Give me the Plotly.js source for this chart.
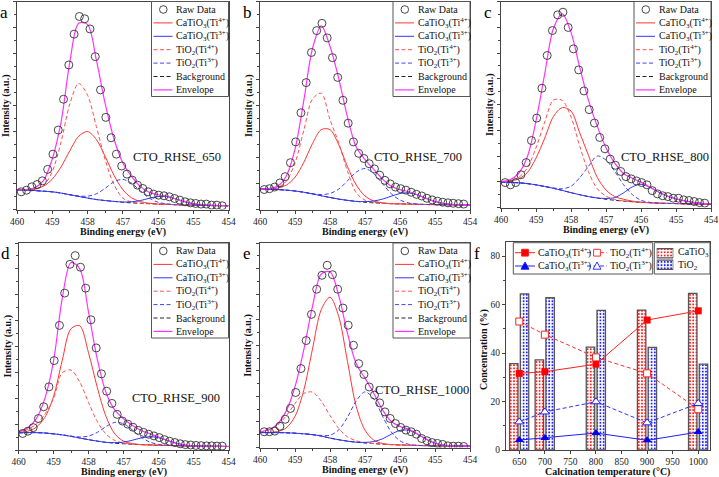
<!DOCTYPE html>
<html>
<head>
<meta charset="utf-8">
<script src="https://cdn.plot.ly/plotly-3.0.1.min.js"></script>
<style>
html, body { margin: 0; padding: 0; background: #fff; }
#xps { width: 719px; height: 477px; }
</style>
</head>
<body>
<div id="xps"></div>
<script>
// Ti 2p XPS fits (a-e) + phase / valence concentration (f)
// intensities are in plot units: 0 = bottom of frame, 100 = top of frame

// binding energy grids (eV)
var fitE = [460, 459.75, 459.5, 459.25, 459, 458.75, 458.5, 458.25, 458, 457.75, 457.5, 457.25, 457,
	456.75, 456.5, 456.25, 456, 455.75, 455.5, 455.25, 455, 454.75, 454.5, 454.25, 454];
var rawE = [459.88, 459.73, 459.58, 459.43, 459.28, 459.13, 458.98, 458.83, 458.68, 458.53, 458.38, 458.23, 458.08,
	457.93, 457.78, 457.63, 457.48, 457.33, 457.18, 457.03, 456.88, 456.73, 456.58, 456.43, 456.28, 456.13,
	455.98, 455.83, 455.68, 455.53, 455.38, 455.23, 455.08, 454.93, 454.78, 454.63, 454.48, 454.33, 454.18];

// CTO_RHSE_650
var raw650 = [8.5, 9.3, 10.9, 12.0, 13.8, 19.3, 26.6, 38.2, 53.0, 69.5, 84.3, 92.8, 91.7, 86.8, 73.5, 57.5, 44.3, 34.5, 26.6, 20.9,
	17.0, 14.1, 11.7, 10.1, 8.5, 7.4, 6.9, 6.6, 6.1, 5.3, 4.5, 3.7, 3.2, 2.9, 2.6, 2.6, 2.1, 2.1, 1.8];
var bg650  = [9.3, 9.3, 9.1, 8.8, 8.5, 7.9, 7.1, 6.3, 5.5, 4.8, 4.3, 3.9, 3.5, 3.2, 3.0, 2.8, 2.6, 2.5, 2.3, 2.2, 2.1, 2.0, 1.9, 1.85, 1.8];
var ca4_650 = [9.3, 9.5, 9.9, 11.2, 14.6, 20.5, 28.3, 35.2, 37.5, 33.7, 25.5, 16.5, 9.6, 5.6, 3.8, 3.0, 2.6, 2.5, 2.3, 2.2, 2.1, 2.0, 1.9, 1.85, 1.8];
var ca3_650 = [9.3, 9.3, 9.1, 8.8, 8.5, 7.9, 7.1, 6.3, 5.5, 4.8, 4.3, 3.9, 3.6, 3.7, 4.3, 5.4, 6.2, 6.2, 5.1, 3.8, 2.7, 2.2, 1.9, 1.85, 1.8];
var ti4_650 = [9.3, 9.4, 9.6, 11.5, 18.2, 32.5, 50.8, 60.6, 55.0, 40.0, 24.0, 12.0, 5.5, 3.6, 3.0, 2.8, 2.6, 2.5, 2.3, 2.2, 2.1, 2.0, 1.9, 1.85, 1.8];
var ti3_650 = [9.3, 9.3, 9.1, 8.8, 8.5, 7.9, 7.1, 6.5, 6.4, 7.5, 10.2, 13.3, 14.5, 12.6, 8.9, 5.5, 3.5, 2.7, 2.3, 2.2, 2.1, 2.0, 1.9, 1.85, 1.8];
var env650 = [9.3, 9.6, 10.4, 13.9, 24.3, 42, 71, 89.5, 89, 72, 51, 34, 22.5, 15.9, 11.0, 8.3, 7.1, 6.4, 5.1, 3.8, 2.9, 2.4, 2.1, 1.9, 1.8];

// CTO_RHSE_700
var raw700 = [9.6, 10.0, 10.8, 12.8, 15.8, 22.5, 32.5, 46.5, 61, 75.5, 86, 89.5, 82.5, 73, 63.5, 52.5, 41.5, 32.5, 27, 24.5,
	22, 19.5, 16.5, 14, 12.3, 10.8, 10.0, 9.3, 8.3, 7.3, 6.5, 5.4, 4.6, 4.0, 3.5, 3.2, 3.0, 2.8, 2.6];
var bg700  = [9.8, 9.8, 9.6, 9.3, 8.9, 8.3, 7.5, 6.6, 5.8, 5.0, 4.4, 3.9, 3.5, 3.2, 3.0, 2.8, 2.7, 2.6, 2.5, 2.4, 2.35, 2.3, 2.25, 2.2, 2.2];
var ca4_700 = [9.8, 9.9, 10.3, 11.7, 15.5, 22.6, 31.7, 38.4, 38.4, 31.1, 20.6, 11.8, 6.5, 4.1, 3.2, 2.8, 2.7, 2.6, 2.5, 2.4, 2.35, 2.3, 2.25, 2.2, 2.2];
var ca3_700 = [9.8, 9.8, 9.6, 9.3, 8.9, 8.3, 7.5, 6.6, 5.8, 5.0, 4.4, 3.9, 3.8, 4.1, 5.0, 6.4, 7.7, 8.0, 7.0, 5.35, 3.85, 2.9, 2.4, 2.25, 2.2];
var ti4_700 = [9.8, 9.95, 10.6, 13.6, 22.4, 37.9, 53.1, 55.9, 43.2, 32.0, 18.4, 8.0, 4.5, 3.4, 3.0, 2.8, 2.7, 2.6, 2.5, 2.4, 2.35, 2.3, 2.25, 2.2, 2.2];
var ti3_700 = [9.8, 9.8, 9.6, 9.3, 8.9, 8.3, 7.6, 7.2, 7.7, 9.8, 13.8, 18.0, 19.7, 17.3, 12.4, 7.6, 4.55, 3.15, 2.6, 2.4, 2.35, 2.3, 2.25, 2.2, 2.2];
var env700 = [9.8, 10.1, 11.2, 16.0, 29.0, 52.2, 77.4, 88.3, 78.5, 62.9, 44.4, 30.0, 24.0, 19.3, 14.6, 11.2, 9.55, 8.55, 7.1, 5.35, 3.85, 2.9, 2.45, 2.25, 2.2];

// CTO_RHSE_800
var raw800 = [12.1, 11.0, 12.1, 15.9, 21.8, 32.5, 43.4, 57.9, 73.8, 85.9, 93.5, 94.8, 87.4, 77.0, 66.8, 56.6, 47.5, 41.0, 34.0, 28.5,
	23.5, 20.5, 17.5, 15.0, 13.9, 12.9, 12.1, 11.0, 8.2, 6.6, 5.7, 5.3, 4.5, 4.5, 3.7, 3.4, 2.9, 2.4, 2.1];
var bg800  = [12.3, 12.2, 12.0, 11.6, 11.0, 10.2, 9.3, 8.3, 7.2, 6.2, 5.3, 4.6, 4.0, 3.5, 3.1, 2.8, 2.5, 2.3, 2.1, 2.0, 1.9, 1.8, 1.7, 1.65, 1.6];
var ca4_800 = [12.4, 12.7, 13.9, 16.9, 24.0, 33.7, 44.2, 48.5, 46.8, 36.2, 25.3, 14.6, 8.5, 5.3, 4.0, 3.1, 2.6, 2.3, 2.1, 2.0, 1.9, 1.8, 1.7, 1.65, 1.6];
var ca3_800 = [12.3, 12.2, 12.0, 11.6, 11.0, 10.2, 9.3, 8.3, 7.2, 6.2, 5.3, 4.6, 4.4, 4.8, 7.1, 10.0, 11.3, 9.8, 7.5, 5.6, 4.2, 3.2, 2.5, 2.0, 1.7];
var ti4_800 = [12.5, 12.9, 14.6, 19.2, 29.0, 41.5, 52.2, 52.0, 44.0, 29.7, 17.3, 9.1, 5.5, 3.9, 3.2, 2.8, 2.5, 2.3, 2.1, 2.0, 1.9, 1.8, 1.7, 1.65, 1.6];
var ti3_800 = [12.3, 12.2, 12.0, 11.6, 11.0, 10.2, 9.5, 9.1, 10.3, 14.5, 20.0, 25.0, 23.0, 17.5, 11.1, 6.3, 3.5, 2.5, 2.1, 2.0, 1.9, 1.8, 1.7, 1.65, 1.6];
var env800 = [12.6, 13.4, 16.5, 24.5, 42, 65, 87, 94, 85, 68, 52, 39.5, 29, 21.5, 16.5, 14.2, 12.3, 10.0, 7.5, 5.6, 4.2, 3.2, 2.5, 2.0, 1.7];

// CTO_RHSE_900
var raw900 = [8.0, 9.1, 10.8, 15.2, 20.9, 30.5, 43.2, 60.2, 75.8, 89.7, 93.9, 88.3, 78.2, 62.9, 49.3, 36.8, 28.4, 22.5, 17.2, 14.0,
	12.5, 11.0, 9.5, 8.5, 7.6, 6.8, 6.0, 5.0, 4.2, 3.6, 3.0, 2.6, 2.4, 2.2, 2.1, 2.0, 2.0, 1.9, 1.9];
var bg900  = [8.3, 8.4, 8.4, 8.2, 7.8, 7.3, 6.6, 5.8, 5.0, 4.3, 3.7, 3.3, 3.0, 2.8, 2.6, 2.45, 2.3, 2.2, 2.1, 2.0, 1.9, 1.85, 1.8, 1.75, 1.7];
var ca4_900 = [8.4, 9.0, 10.9, 15.7, 25.8, 43.3, 58.6, 60.0, 47.0, 30.3, 16.2, 7.8, 4.3, 3.1, 2.6, 2.45, 2.3, 2.2, 2.1, 2.0, 1.9, 1.85, 1.8, 1.75, 1.7];
var ca3_900 = [8.3, 8.4, 8.4, 8.2, 7.8, 7.3, 6.6, 5.8, 5.0, 4.3, 3.7, 3.55, 3.8, 4.7, 5.8, 6.45, 5.9, 4.6, 3.3, 2.4, 2.0, 1.85, 1.8, 1.75, 1.7];
var ti4_900 = [8.8, 9.9, 12.4, 17.2, 24.8, 37.3, 38.6, 32.8, 23.0, 13.8, 7.7, 4.6, 3.3, 2.8, 2.6, 2.45, 2.3, 2.2, 2.1, 2.0, 1.9, 1.85, 1.8, 1.75, 1.7];
var ti3_900 = [8.3, 8.4, 8.4, 8.2, 7.8, 7.3, 6.7, 6.3, 6.7, 8.5, 11.3, 13.35, 12.7, 9.7, 6.2, 3.85, 2.7, 2.3, 2.1, 2.0, 1.9, 1.85, 1.8, 1.75, 1.7];
var env900 = [8.9, 10.5, 14.9, 24.7, 42.8, 73.3, 90.6, 87.5, 66.7, 44.0, 27.8, 19.4, 15.1, 11.9, 9.4, 7.85, 6.3, 4.7, 3.3, 2.4, 2.0, 1.9, 1.8, 1.75, 1.7];

// CTO_RHSE_1000
var raw1000 = [7.7, 7.7, 8.0, 10.4, 13.8, 19.1, 26.9, 38.6, 52.3, 65.1, 77.4, 84.2, 89.1, 84.5, 77.4, 68.2, 59.8, 50.0, 41.0, 35.7,
	29.6, 25.6, 21.8, 17.4, 14.2, 11.7, 9.8, 8.5, 7.7, 6.5, 4.4, 3.3, 2.4, 2.0, 1.5, 0.8, 0.65, 0.65, 0.5];
var bg1000  = [7.3, 7.3, 7.3, 7.2, 7.0, 6.7, 6.3, 5.6, 4.6, 3.8, 3.1, 2.6, 2.2, 1.9, 1.6, 1.4, 1.25, 1.1, 1.0, 0.9, 0.85, 0.8, 0.75, 0.7, 0.7];
var ca4_1000 = [7.3, 7.4, 7.8, 9.6, 15.2, 28.0, 48.2, 67.4, 73.5, 64.0, 42.0, 20.0, 8.5, 3.6, 1.95, 1.45, 1.25, 1.1, 1.0, 0.9, 0.85, 0.8, 0.75, 0.7, 0.7];
var ca3_1000 = [7.3, 7.3, 7.3, 7.2, 7.0, 6.7, 6.3, 5.6, 4.6, 3.8, 3.1, 2.6, 2.5, 2.9, 4.25, 6.5, 8.35, 8.4, 6.5, 4.0, 2.1, 1.2, 0.83, 0.7, 0.7];
var ti4_1000 = [7.65, 8.6, 11.0, 15.5, 21.5, 26.4, 27.1, 22.7, 15.6, 9.3, 5.2, 3.25, 2.35, 1.9, 1.6, 1.4, 1.25, 1.1, 1.0, 0.9, 0.85, 0.8, 0.75, 0.7, 0.7];
var ti3_1000 = [7.3, 7.3, 7.3, 7.2, 7.0, 6.7, 6.3, 5.9, 6.0, 8.6, 14.8, 22.8, 27.2, 23.8, 15.4, 7.6, 3.25, 1.55, 1.07, 0.9, 0.85, 0.8, 0.75, 0.7, 0.7];
var env1000 = [7.7, 8.7, 11.5, 17.9, 29.7, 47.7, 69.0, 84.8, 85.9, 74.3, 55.8, 40.9, 33.9, 26.5, 18.4, 12.75, 10.35, 8.85, 6.6, 4.0, 2.1, 1.2, 0.83, 0.7, 0.7];

// panel f: concentration (%) vs calcination temperature
var calcTemp = [650, 700, 800, 900, 1000];
var phaseCaTiO3 = [35.6, 37.2, 42.4, 57.7, 64.6];
var phaseTiO2 = [64.4, 62.8, 57.6, 42.3, 35.4];
var caTi4 = [31.6, 32.3, 35.4, 53.6, 57.4];
var tiTi4 = [53.0, 47.6, 38.2, 31.6, 16.8];
var caTi3 = [4.1, 5.0, 7.0, 4.0, 7.4];
var tiTi3 = [11.6, 15.7, 19.9, 11.2, 19.2];
var legendSwatch = [1];

var energyTicks = [460, 459, 458, 457, 456, 455, 454];
var tempTicks = [650, 700, 750, 800, 850, 900, 950, 1000];
var concTicks = [0, 20, 40, 60, 80];

var W = 719, H = 477;
var SERIF = '"Liberation Serif", "Times New Roman", serif';
var RED = '#ff3333', RED_D = '#ff5050', BLUE = '#3333ff', BLUE_D = '#4040ff', MAG = '#ff33ff';
var DASH = '4px,2.5px';
var AX = '#444';

function px(x) { return x / W; }
function py(y) { return 1 - y / H; }

// frame of each panel in page pixels [left, right, top, bottom]
var panels = [
	{ tag: 'a', label: 'CTO_RHSE_650',  frame: [17, 228.5, 1.5, 209.5], labelAt: [176.7, 157], raw: raw650,  bg: bg650,  ca4: ca4_650,  ca3: ca3_650,  ti4: ti4_650,  ti3: ti3_650,  env: env650 },
	{ tag: 'b', label: 'CTO_RHSE_700',  frame: [260, 470, 1.5, 209.5],   labelAt: [418, 157],   raw: raw700,  bg: bg700,  ca4: ca4_700,  ca3: ca3_700,  ti4: ti4_700,  ti3: ti3_700,  env: env700 },
	{ tag: 'c', label: 'CTO_RHSE_800',  frame: [501, 711, 1.5, 207.5],   labelAt: [665, 157],   raw: raw800,  bg: bg800,  ca4: ca4_800,  ca3: ca3_800,  ti4: ti4_800,  ti3: ti3_800,  env: env800 },
	{ tag: 'd', label: 'CTO_RHSE_900',  frame: [18.5, 228.5, 243, 450],  labelAt: [176, 398],   raw: raw900,  bg: bg900,  ca4: ca4_900,  ca3: ca3_900,  ti4: ti4_900,  ti3: ti3_900,  env: env900 },
	{ tag: 'e', label: 'CTO_RHSE_1000', frame: [260, 470, 243, 447.5],   labelAt: [421.5, 390], raw: raw1000, bg: bg1000, ca4: ca4_1000, ca3: ca3_1000, ti4: ti4_1000, ti3: ti3_1000, env: env1000 }
];
var fFrame = [506, 710, 242, 450];

var data = [];
var layout = {
	width: W, height: H,
	margin: { l: 0, r: 0, t: 0, b: 0 },
	paper_bgcolor: '#fff', plot_bgcolor: 'rgba(0,0,0,0)',
	showlegend: false,
	barmode: 'overlay',
	font: { family: SERIF, size: 9.5, color: '#111' },
	shapes: [], annotations: []
};

function note(text, x, y, opts) {
	var a = { text: text, x: px(x), y: py(y), xref: 'paper', yref: 'paper', showarrow: false,
		xanchor: 'center', yanchor: 'middle', font: { family: SERIF, size: 9.8, color: '#111' } };
	for (var k in opts) a[k] = opts[k];
	layout.annotations.push(a);
}
function pline(x0, y0, x1, y1, color, dash, width) {
	layout.shapes.push({ type: 'line', xref: 'paper', yref: 'paper', x0: px(x0), y0: py(y0), x1: px(x1), y1: py(y1),
		line: { color: color, dash: dash || 'solid', width: width || 1 } });
}
function pbox(x0, y0, x1, y1, stroke, fill, width) {
	layout.shapes.push({ type: 'rect', xref: 'paper', yref: 'paper', x0: px(x0), y0: py(y0), x1: px(x1), y1: py(y1),
		line: { color: stroke, width: width || 1 }, fillcolor: fill });
}

// legend entries used in a-e
var fitLegend = [
	{ name: 'Raw Data', circle: true },
	{ name: 'CaTiO<sub>3</sub>(Ti<sup>4+</sup>)', color: RED, dash: 'solid' },
	{ name: 'CaTiO<sub>3</sub>(Ti<sup>3+</sup>)', color: BLUE, dash: 'solid' },
	{ name: 'TiO<sub>2</sub>(Ti<sup>4+</sup>)', color: RED_D, dash: DASH },
	{ name: 'TiO<sub>2</sub>(Ti<sup>3+</sup>)', color: BLUE_D, dash: DASH },
	{ name: 'Background', color: '#222', dash: DASH },
	{ name: 'Envelope', color: MAG, dash: 'solid' }
];

panels.forEach(function(p, i) {
	var n = i + 1;
	var xa = 'x' + (n > 1 ? n : ''), ya = 'y' + (n > 1 ? n : '');
	var f = p.frame;
	layout['xaxis' + (n > 1 ? n : '')] = {
		domain: [px(f[0]), px(f[1])], anchor: ya, range: [460, 454], autorange: false,
		tickmode: 'array', tickvals: energyTicks,
		ticks: 'outside', ticklen: 3, tickwidth: 1, tickcolor: AX,
		minor: { tickmode: 'linear', tick0: 454, dtick: 0.5, ticks: 'outside', ticklen: 2, tickcolor: AX },
		showline: true, linecolor: AX, linewidth: 1, mirror: true,
		showgrid: false, zeroline: false,
		tickfont: { family: SERIF, size: 9.5, color: '#222' }
	};
	layout['yaxis' + (n > 1 ? n : '')] = {
		domain: [py(f[3]), py(f[2])], anchor: xa, range: [0, 100], autorange: false,
		tickmode: 'linear', tick0: 0, dtick: 12.5, showticklabels: false,
		ticks: 'outside', ticklen: 3, tickcolor: AX,
		minor: { dtick: 6.25, ticks: 'outside', ticklen: 2, tickcolor: AX },
		showline: true, linecolor: AX, linewidth: 1, mirror: true,
		showgrid: false, zeroline: false
	};

	function fit(y, color, dash, width) {
		return { x: fitE, y: y, xaxis: xa, yaxis: ya, type: 'scatter', mode: 'lines', hoverinfo: 'skip',
			line: { color: color, dash: dash, width: width, shape: 'spline', smoothing: 0.9 } };
	}
	data.push(fit(p.bg, '#222', DASH, 1));
	data.push(fit(p.ca4, RED, 'solid', 1));
	data.push(fit(p.ti4, RED_D, DASH, 1));
	data.push(fit(p.ti3, BLUE_D, DASH, 1));
	data.push(fit(p.ca3, BLUE, 'solid', 1));
	data.push(fit(p.env, MAG, 'solid', 1.2));
	data.push({ x: rawE, y: p.raw, xaxis: xa, yaxis: ya, type: 'scatter', mode: 'markers', hoverinfo: 'skip',
		marker: { symbol: 'circle-open', size: 8, color: '#333', line: { width: 0.9, color: '#333' } } });

	// boxed legend in the top-right corner
	var bx = f[1] - 77, by = f[2];
	pbox(bx, by, f[1], by + 95, '#555', '#fff', 1);
	fitLegend.forEach(function(e, k) {
		var cy = by + 8 + k * 13.4;
		if (e.circle) {
			layout.shapes.push({ type: 'circle', xref: 'paper', yref: 'paper',
				x0: px(bx + 8), x1: px(bx + 15.6), y0: py(cy - 3.8), y1: py(cy + 3.8),
				line: { color: '#333', width: 0.9 } });
		} else {
			pline(bx + 2, cy, bx + 21, cy, e.color, e.dash, e.color === MAG ? 1.2 : 1);
		}
		note(e.name, bx + 22.5, cy, { xanchor: 'left', font: { family: SERIF, size: 10, color: '#111' } });
	});

	note(p.tag, f[0] - 13, f[2] + 11, { font: { family: SERIF, size: 17, color: '#000' } });
	note(p.label, p.labelAt[0], p.labelAt[1], { font: { family: SERIF, size: 12.5, color: '#111' } });
	note('<b>Binding energy (eV)</b>', (f[0] + f[1]) / 2, Math.min(f[3] + 22, 472.5), { font: { family: SERIF, size: 10, color: '#111' } });
	note('<b>Intensity (a.u.)</b>', f[0] - 11.5, (f[2] + f[3]) / 2, { textangle: -90, font: { family: SERIF, size: 10, color: '#111' } });
});

// ---- panel f ----
layout.xaxis6 = {
	domain: [px(fFrame[0]), px(fFrame[1])], anchor: 'y6', range: [624, 1023], autorange: false,
	tickmode: 'array', tickvals: tempTicks,
	ticks: 'outside', ticklen: 3, tickcolor: AX,
	showline: true, linecolor: AX, linewidth: 1, mirror: true,
	showgrid: false, zeroline: false,
	tickfont: { family: SERIF, size: 9.5, color: '#222' }
};
layout.yaxis6 = {
	domain: [py(fFrame[3]), py(fFrame[2])], anchor: 'x6', range: [0, 85.8], autorange: false,
	tickmode: 'array', tickvals: concTicks,
	ticks: 'outside', ticklen: 3, tickcolor: AX,
	minor: { dtick: 10, ticks: 'outside', ticklen: 2, tickcolor: AX },
	showline: true, linecolor: AX, linewidth: 1, mirror: true,
	showgrid: false, zeroline: false,
	tickfont: { family: SERIF, size: 9.5, color: '#222' }
};

var barCa = { color: '#fff', line: { color: '#555', width: 1.3 },
	pattern: { shape: '.', fgcolor: '#ff2020', bgcolor: '#fff', size: 3.2, solidity: 0.3 } };
var barTi = { color: '#fff', line: { color: '#555', width: 1.3 },
	pattern: { shape: '.', fgcolor: '#2020ff', bgcolor: '#fff', size: 3.2, solidity: 0.3 } };

data.push({ type: 'bar', x: calcTemp, y: phaseCaTiO3, xaxis: 'x6', yaxis: 'y6', width: 16.5, offset: -19, marker: barCa, hoverinfo: 'skip' });
data.push({ type: 'bar', x: calcTemp, y: phaseTiO2, xaxis: 'x6', yaxis: 'y6', width: 16.5, offset: 2, marker: barTi, hoverinfo: 'skip' });
data.push({ type: 'scatter', mode: 'lines+markers', x: calcTemp, y: caTi4, xaxis: 'x6', yaxis: 'y6', hoverinfo: 'skip',
	line: { color: '#ff2020', width: 1 }, marker: { symbol: 'square', size: 7, color: '#ff0000' } });
data.push({ type: 'scatter', mode: 'lines+markers', x: calcTemp, y: tiTi4, xaxis: 'x6', yaxis: 'y6', hoverinfo: 'skip',
	line: { color: '#ff3030', width: 1, dash: DASH }, marker: { symbol: 'square', size: 7, color: '#fff', line: { color: '#ff2020', width: 1 } } });
data.push({ type: 'scatter', mode: 'lines+markers', x: calcTemp, y: caTi3, xaxis: 'x6', yaxis: 'y6', hoverinfo: 'skip',
	line: { color: '#2020ff', width: 1 }, marker: { symbol: 'triangle-up', size: 8, color: '#0000ff' } });
data.push({ type: 'scatter', mode: 'lines+markers', x: calcTemp, y: tiTi3, xaxis: 'x6', yaxis: 'y6', hoverinfo: 'skip',
	line: { color: '#3030ff', width: 1, dash: DASH }, marker: { symbol: 'triangle-up', size: 8, color: '#fff', line: { color: '#2020ff', width: 1 } } });

note('f', 477, 253, { font: { family: SERIF, size: 17, color: '#000' } });
note('<b>Concentration (%)</b>', 484, 350, { textangle: -90, font: { family: SERIF, size: 10, color: '#111' } });
note('<b>Calcination temperature (°C)</b>', 607, 472, { font: { family: SERIF, size: 10, color: '#111' } });

// legend 1 (line series), two columns
pbox(513.3, 242.7, 652.7, 274, '#555', '#fff', 1);
var fl = [
	{ name: 'CaTiO<sub>3</sub>(Ti<sup>4+</sup>)', x: 515, y: 252.7, color: '#ff2020', dash: 'solid', sym: 'sq', fill: '#ff0000' },
	{ name: 'TiO<sub>2</sub>(Ti<sup>4+</sup>)', x: 587, y: 252.7, color: '#ff3030', dash: DASH, sym: 'sq', fill: '#fff' },
	{ name: 'CaTiO<sub>3</sub>(Ti<sup>3+</sup>)', x: 515, y: 266, color: '#2020ff', dash: 'solid', sym: 'tri', fill: '#0000ff' },
	{ name: 'TiO<sub>2</sub>(Ti<sup>3+</sup>)', x: 587, y: 266, color: '#3030ff', dash: DASH, sym: 'tri', fill: '#fff' }
];
fl.forEach(function(e) {
	var cx = e.x + 10;
	pline(e.x, e.y, e.x + 20, e.y, e.color, e.dash, 1);
	if (e.sym === 'sq') {
		pbox(cx - 3.4, e.y - 3.4, cx + 3.4, e.y + 3.4, e.color, e.fill, 1);
	} else {
		layout.shapes.push({ type: 'path', xref: 'paper', yref: 'paper',
			path: 'M ' + px(cx - 4) + ' ' + py(e.y + 3.2) + ' L ' + px(cx + 4) + ' ' + py(e.y + 3.2) + ' L ' + px(cx) + ' ' + py(e.y - 4) + ' Z',
			line: { color: e.color, width: 1 }, fillcolor: e.fill });
	}
	note(e.name, e.x + 21, e.y, { xanchor: 'left', font: { family: SERIF, size: 10, color: '#111' } });
});

// legend 2 (phase bars) with patterned swatches on a hidden mini axis; box left unfilled so swatches show
pbox(654.3, 242.7, 710, 274, '#555', 'rgba(0,0,0,0)', 1);
layout.xaxis7 = { domain: [px(656.7), px(673.3)], anchor: 'y7', range: [0, 1], visible: false, fixedrange: true };
layout.yaxis7 = { domain: [py(270.5), py(247.5)], anchor: 'x7', type: 'category', categoryorder: 'array', categoryarray: ['TiO2', 'CaTiO3'],
	range: [-0.5, 1.5], visible: false, fixedrange: true };
data.push({ type: 'bar', orientation: 'h', x: legendSwatch, y: ['CaTiO3'], xaxis: 'x7', yaxis: 'y7', width: 0.8, marker: barCa, hoverinfo: 'skip' });
data.push({ type: 'bar', orientation: 'h', x: legendSwatch, y: ['TiO2'], xaxis: 'x7', yaxis: 'y7', width: 0.8, marker: barTi, hoverinfo: 'skip' });
note('CaTiO<sub>3</sub>', 675.5, 252.7, { xanchor: 'left', font: { family: SERIF, size: 10, color: '#111' } });
note('TiO<sub>2</sub>', 675.5, 265.5, { xanchor: 'left', font: { family: SERIF, size: 10, color: '#111' } });

Plotly.newPlot('xps', data, layout, { displayModeBar: false, staticPlot: true });
</script>
</body>
</html>
